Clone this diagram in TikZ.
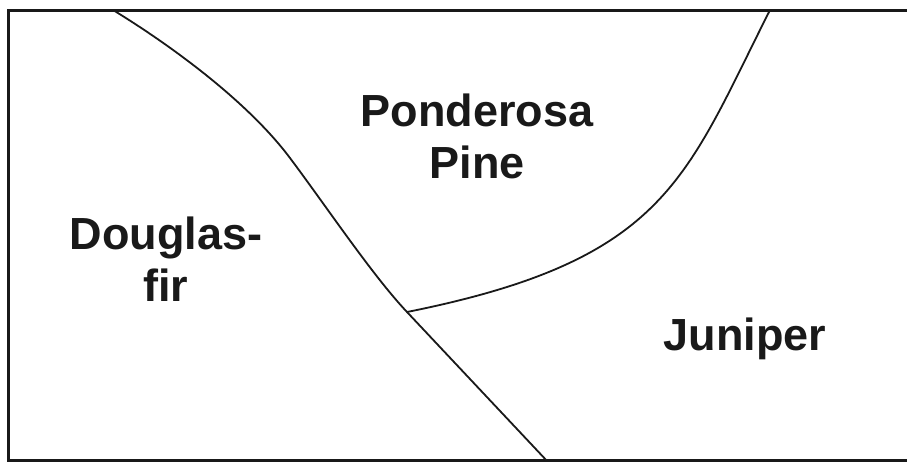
\documentclass[tikz,border=0pt]{standalone}
\usepackage{fontspec}
\setmainfont{Liberation Sans}
\begin{document}
\begin{tikzpicture}[x=1pt,y=-1pt,
  label/.style={font=\bfseries\fontsize{45}{52}\selectfont, inner sep=0pt, align=center, text=black!90},
  frame/.style={draw=black!90, line width=3pt},
  boundary/.style={draw=black!90, line width=1.8pt, line join=round}]
\useasboundingbox (0,0) rectangle (907,461);
\clip (0,0) rectangle (907,461);
\fill[white] (0,0) rectangle (907,461);
\draw[frame] (8,10.5) rectangle (915,460.5);
\coordinate (top1) at (113,10);
\coordinate (mid1) at (290,158);
\coordinate (junc) at (407,312);
\coordinate (bot) at (548,462);
\coordinate (top2) at (770,10);
\draw[boundary] (top1) .. controls (172.5,46.4) and (248,102) .. (mid1)
  .. controls (326,206) and (372.5,275.5) .. (junc) -- (bot);
\draw[boundary] (junc) .. controls (667,260) and (684.5,179) .. (top2);
\node[label] (pp) at (477,136.5) {Ponderosa\\Pine};
\node[label] (df) at (166,259.5) {Douglas-\\fir};
\node[label, anchor=base] (ju) at (745,350) {Juniper};
\end{tikzpicture}
\end{document}
